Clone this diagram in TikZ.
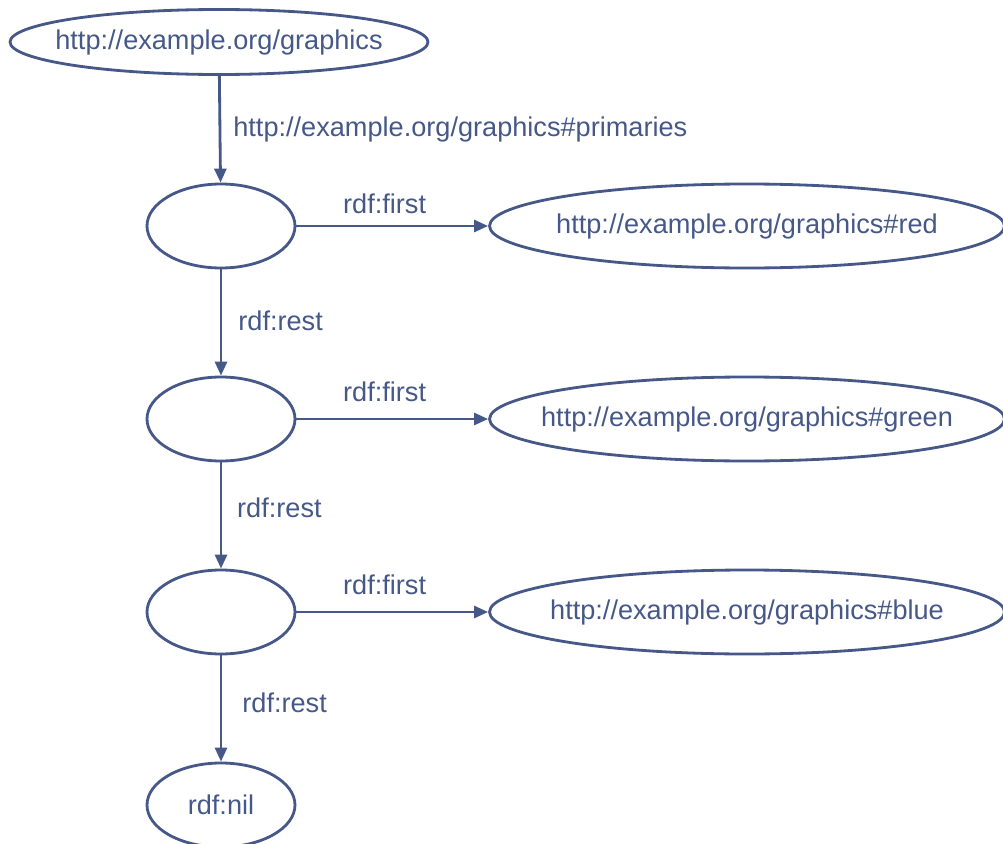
\documentclass[tikz,border=0pt]{standalone}
\usepackage{fontspec}
\setmainfont{Liberation Sans}
\usetikzlibrary{shapes.geometric,arrows.meta,positioning}
\definecolor{rdfblue}{RGB}{70,88,136}
\newcommand{\inbox}[1]{\makebox[0pt]{#1}}
\begin{document}
\begin{tikzpicture}[rdfblue, line width=2pt, >={Triangle[length=3.5mm,width=3mm]},
  every node/.style={font=\fontsize{19.3}{23}\selectfont, text=rdfblue},
  res/.style={ellipse, draw, inner sep=0pt, minimum height=2.1cm},
  blank/.style={res, minimum width=3.7cm},
  uri/.style={res, minimum width=12.875cm},
  lbl/.style={inner sep=0pt}]
\useasboundingbox (0,0) rectangle (25.075,-21.1);
\node[res, minimum width=10.45cm, minimum height=1.625cm] (g) at (5.475,-1.05) {\inbox{http://example.org/graphics}};
\foreach \i/\c/\y/\d in {1/red/5.65/0.27, 2/green/10.475/0.4, 3/blue/15.3/0.4}
  {\node[blank] (b\i) at (5.525,-\y) {};
   \node[uri] (u\i) at (18.675,-\y) {\inbox{http://example.org/graphics\#\c}};
   \draw[->] (b\i) -- node[lbl, pos=0.46, above=\d cm]{rdf:first} (u\i);};
\node[blank] (nil) at (5.525,-20.125) {rdf:nil};
\draw[->] (g) -- node[lbl, pos=0.5, right=0.3cm]{http://example.org/graphics\#primaries} (b1);
\draw[->] (b1) -- node[lbl, pos=0.48, right=0.4cm]{rdf:rest} (b2);
\draw[->] (b2) -- node[lbl, pos=0.43, right=0.37cm]{rdf:rest} (b3);
\draw[->] (b3) -- node[lbl, pos=0.45, right=0.5cm]{rdf:rest} (nil);
\end{tikzpicture}
\end{document}
